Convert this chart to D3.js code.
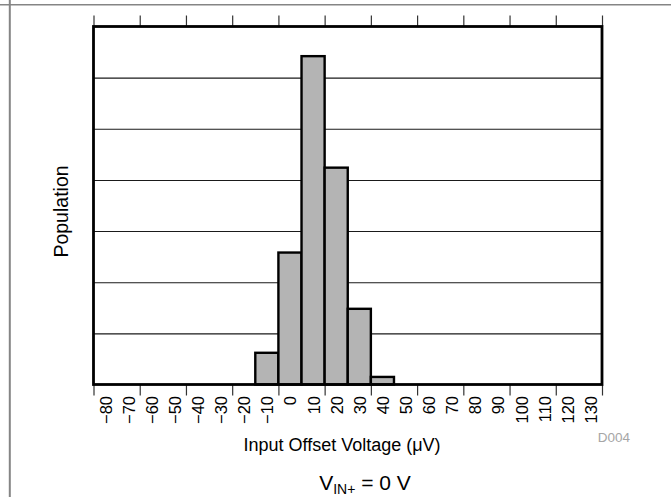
<!DOCTYPE html>
<html>
<head>
<meta charset="utf-8">
<script src="https://cdn.jsdelivr.net/npm/d3@7"></script>
<style>
  html, body { margin: 0; padding: 0; background: #fff; }
  svg { display: block; font-family: "Liberation Sans", Arial, Helvetica, sans-serif; }
</style>
</head>
<body>
<svg id="chart" width="671" height="497"></svg>
<script>
// Histogram bins (µV, bin centres) and population share per bin (%)
const binCenters = [-80, -70, -60, -50, -40, -30, -20, -10, 0, 10, 20, 30, 40, 50, 60, 70, 80, 90, 100, 110, 120, 130];
const population = [0, 0, 0, 0, 0, 0, 0, 3.1, 12.9, 32.1, 21.2, 7.4, 0.74, 0, 0, 0, 0, 0, 0, 0, 0, 0];
const binWidth = 10;
const gridValues = [5, 10, 15, 20, 25, 30];
const xTitle = "Input Offset Voltage (\u03BCV)";
const yTitle = "Population";
const figureId = "D004";

const svg = d3.select("#chart");
const W = 671, H = 497;
const plot = { left: 93.5, right: 602, top: 26.5, bottom: 384.5 };

const x = d3.scaleLinear()
  .domain([binCenters[0] - binWidth / 2, binCenters[binCenters.length - 1] + binWidth / 2])
  .range([plot.left, plot.right]);
const y = d3.scaleLinear().domain([0, 35]).range([plot.bottom, plot.top]);

// bin edges that carry a tick mark (every second edge)
const edgeTicks = d3.range(x.domain()[0], x.domain()[1] + 0.001, 2 * binWidth);

// page frame lines
svg.append("line").attr("x1", 0).attr("x2", W).attr("y1", 4.8).attr("y2", 4.8)
  .attr("stroke", "#858585").attr("stroke-width", 1.6);
svg.append("line").attr("x1", 9.8).attr("x2", 9.8).attr("y1", 0).attr("y2", H)
  .attr("stroke", "#858585").attr("stroke-width", 2);

// horizontal grid
svg.append("g")
  .attr("transform", `translate(${plot.left},0)`)
  .call(d3.axisLeft(y).tickValues(gridValues).tickSize(-(plot.right - plot.left)).tickFormat(""))
  .call(g => g.select(".domain").remove())
  .call(g => g.selectAll("line").attr("stroke", "#1a1a1a").attr("stroke-width", 1.1));

// bars
svg.append("g").selectAll("rect")
  .data(binCenters.map((c, i) => ({ c, v: population[i] })).filter(d => d.v > 0))
  .join("rect")
  .attr("x", d => x(d.c - binWidth / 2))
  .attr("width", d => x(d.c + binWidth / 2) - x(d.c - binWidth / 2))
  .attr("y", d => y(d.v))
  .attr("height", d => y(0) - y(d.v))
  .attr("fill", "#b4b4b4")
  .attr("stroke", "#000")
  .attr("stroke-width", 2.4);

// tick marks on top and bottom edges
svg.append("g")
  .attr("transform", `translate(0,${plot.bottom})`)
  .call(d3.axisBottom(x).tickValues(edgeTicks).tickSize(11).tickFormat(""))
  .call(g => g.select(".domain").remove())
  .call(g => g.selectAll("line").attr("stroke", "#333").attr("stroke-width", 1.2));
svg.append("g")
  .attr("transform", `translate(0,${plot.top})`)
  .call(d3.axisTop(x).tickValues(edgeTicks).tickSize(11).tickFormat(""))
  .call(g => g.select(".domain").remove())
  .call(g => g.selectAll("line").attr("stroke", "#333").attr("stroke-width", 1.2));

// bin labels, rotated
svg.append("g")
  .attr("transform", `translate(0,${plot.bottom})`)
  .call(d3.axisBottom(x).tickValues(binCenters).tickSize(0).tickFormat(d3.format("d")))
  .call(g => g.select(".domain").remove())
  .call(g => g.selectAll("text")
    .attr("transform", "rotate(-90)")
    .attr("x", -11.5).attr("y", 0).attr("dy", "0.36em")
    .style("text-anchor", "end")
    .attr("fill", "#000")
    .style("font-size", "16.5px")
    .style("font-family", "\"Liberation Sans\", Arial, sans-serif"));

// plot frame
svg.append("rect")
  .attr("x", plot.left).attr("y", plot.top)
  .attr("width", plot.right - plot.left).attr("height", plot.bottom - plot.top)
  .attr("fill", "none").attr("stroke", "#000").attr("stroke-width", 2.8);

// titles
svg.append("text")
  .attr("x", 342).attr("y", 451)
  .attr("text-anchor", "middle").style("font-size", "18px").text(xTitle);

svg.append("text")
  .attr("transform", "translate(68,211.5) rotate(-90)")
  .attr("text-anchor", "middle").style("font-size", "19.5px").text(yTitle);

svg.append("text")
  .attr("x", 630).attr("y", 442)
  .attr("text-anchor", "end").attr("fill", "#a6a6a6").style("font-size", "13.5px").text(figureId);

const cond = svg.append("text")
  .attr("x", 365).attr("y", 490)
  .attr("text-anchor", "middle").style("font-size", "21px");
cond.append("tspan").text("V");
cond.append("tspan").attr("dy", 4).style("font-size", "14px").text("IN+");
cond.append("tspan").attr("dy", -4).text(" = 0 V");
</script>
</body>
</html>
